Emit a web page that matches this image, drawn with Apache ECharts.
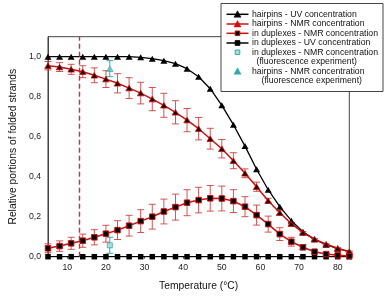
<!DOCTYPE html>
<html><head><meta charset="utf-8">
<script src="https://cdn.jsdelivr.net/npm/echarts@6/dist/echarts.min.js"></script>
<style>html,body{margin:0;padding:0;background:#fff}#c{width:387px;height:296px}</style>
</head><body><div id="c"></div>
<script>
const temps = [5,8,11,14,17,20,23,26,29,32,35,38,41,44,47,50,53,56,59,62,65,68,71,74,77,80,83];
const hairpinsUV = [1.0,1.0,1.0,1.0,1.0,1.0,1.0,1.0,0.997,0.99,0.98,0.965,0.94,0.9,0.84,0.757,0.66,0.553,0.437,0.335,0.25,0.18,0.125,0.087,0.06,0.04,0.025];
const hairpinsNMR = [0.955,0.948,0.937,0.925,0.907,0.888,0.867,0.843,0.818,0.788,0.757,0.722,0.683,0.64,0.59,0.54,0.48,0.417,0.35,0.28,0.22,0.165,0.12,0.087,0.062,0.042,0.025];
const hairpinsNMRerr = [0.021,0.022,0.025,0.03,0.037,0.042,0.048,0.052,0.054,0.058,0.06,0.058,0.058,0.056,0.052,0.046,0.04,0.022,0.023,0.012,0.01,0.006,0.005,0.004,0.003,0.003,0.003];
const duplexNMR = [0.042,0.053,0.067,0.08,0.097,0.115,0.133,0.155,0.178,0.2,0.226,0.248,0.27,0.283,0.292,0.291,0.278,0.25,0.208,0.163,0.113,0.075,0.047,0.025,0.013,0.007,0.003];
const duplexNMRerr = [0.022,0.026,0.03,0.033,0.038,0.042,0.047,0.052,0.057,0.062,0.062,0.065,0.065,0.064,0.064,0.062,0.057,0.05,0.05,0.04,0.032,0.022,0.012,0.008,0.005,0.003,0.002];
const duplexUV = [0,0,0,0,0,0,0,0,0,0,0,0,0,0,0,0,0,0,0,0,0,0,0,0,0,0,0];
const fluoTemp = [21];
const fluoHairpin = [0.94];
const fluoHairpinErr = [0.04];
const fluoDuplex = [0.057];
const fluoDuplexErr = [0.04];
const dashedTemp = 13;
const xTicks = [10,20,30,40,50,60,70,80];
const yTicks = [0,0.2,0.4,0.6,0.8,1.0];
const legendNames = [
  ['hairpins - UV concentration'],
  ['hairpins - NMR concentration'],
  ['in duplexes - NMR concentration'],
  ['in duplexes - UV concentration'],
  ['in duplexes - NMR concentration','(fluorescence experiment)'],
  ['hairpins - NMR concentration','(fluorescence experiment)']
];

const FONT = 'Liberation Sans, Arial, sans-serif';
const RED = '#cc1010';
const ERR = 'rgba(208,64,64,0.9)';
const TEAL = '#35a8a8';

function pairs(xs, ys){ return xs.map((x,i)=>[x, ys[i]]); }
function errSeries(xs, ys, es, color, z){
  return {
    type:'custom', z:z, silent:true,
    encode:{x:0, y:[1,2]},
    data: xs.map((x,i)=>[x, ys[i]-es[i], ys[i]+es[i]]),
    renderItem:function(params, api){
      const lo = api.coord([api.value(0), api.value(1)]);
      const hi = api.coord([api.value(0), api.value(2)]);
      const w = 3.5;
      const st = {stroke: color, lineWidth: 1};
      return {type:'group', children:[
        {type:'line', shape:{x1:lo[0],y1:lo[1],x2:hi[0],y2:hi[1]}, style:st},
        {type:'line', shape:{x1:lo[0]-w,y1:lo[1],x2:lo[0]+w,y2:lo[1]}, style:st},
        {type:'line', shape:{x1:hi[0]-w,y1:hi[1],x2:hi[0]+w,y2:hi[1]}, style:st}
      ]};
    }
  };
}

// legend drawn as graphic
const LX = 221, LY = 3.5;
const entryY = [14.3, 24, 33.3, 43, 52.3, 71.3];
const gl = [];
gl.push({type:'rect', shape:{x:LX, y:LY, width:162, height:88}, style:{fill:'#fff', stroke:'#444', lineWidth:1}, z:100});
function tri(cx, cy, s){ return [[cx, cy-s*0.55],[cx+s*0.55, cy+s*0.45],[cx-s*0.55, cy+s*0.45]]; }
const iconDefs = [
  {line:'#000', mark:'tri', fill:'#000', stroke:'#000'},
  {line:RED, mark:'tri', fill:RED, stroke:RED},
  {line:RED, mark:'sq', fill:'#000', stroke:RED},
  {line:'#000', mark:'sq', fill:'#000', stroke:'#000'},
  {line:null, mark:'sq', fill:'#a8dcdc', stroke:TEAL},
  {line:null, mark:'tri', fill:TEAL, stroke:TEAL}
];
iconDefs.forEach((d,i)=>{
  const cy = entryY[i];
  if(d.line) gl.push({type:'line', shape:{x1:226.5,y1:cy,x2:248.5,y2:cy}, style:{stroke:d.line, lineWidth:1.5}, z:101});
  if(d.mark==='tri') gl.push({type:'polygon', shape:{points:tri(237.5,cy,6.5)}, style:{fill:d.fill, stroke:d.stroke, lineWidth:0.5}, z:102});
  else gl.push({type:'rect', shape:{x:235.2,y:cy-2.3,width:4.6,height:4.6}, style:{fill:d.fill, stroke:d.stroke, lineWidth:1}, z:102});
  const names = legendNames[i];
  gl.push({type:'text', x:252, y:cy, style:{text:names[0], font:'8.7px '+FONT, fill:'#111', verticalAlign:'middle'}, z:102});
  if(names[1]) gl.push({type:'text', x: i===4?256.5:261.5, y:cy+9.5, style:{text:names[1], font:'8.7px '+FONT, fill:'#111', verticalAlign:'middle'}, z:102});
});

const chart = echarts.init(document.getElementById('c'), null, {renderer:'canvas'});
chart.setOption({
  animation:false,
  backgroundColor:'#fff',
  textStyle:{fontFamily:FONT},
  grid:{left:42.3, right:37.7, top:36.7, bottom:39.3, show:true, borderColor:'#444', borderWidth:1, backgroundColor:'transparent'},
  xAxis:{
    type:'value', min:5, max:83,
    name:'Temperature (°C)', nameLocation:'middle', nameGap:24,
    nameTextStyle:{fontSize:10.3, color:'#111', fontFamily:FONT},
    axisLine:{onZero:false, lineStyle:{color:'#444', width:1}},
    axisTick:{show:true, length:2, customValues:xTicks, lineStyle:{color:'#444'}},
    axisLabel:{customValues:xTicks, fontSize:8.7, color:'#222', margin:6, fontFamily:FONT},
    splitLine:{show:false}
  },
  yAxis:{
    type:'value', min:0, max:1.1,
    name:'Relative portions of folded strands', nameLocation:'middle', nameGap:27,
    nameTextStyle:{fontSize:10.3, color:'#111', fontFamily:FONT},
    axisLine:{onZero:false, lineStyle:{color:'#444', width:1}},
    axisTick:{show:false, customValues:yTicks},
    axisLabel:{customValues:yTicks, fontSize:8.7, color:'#222', margin:7, fontFamily:FONT,
      formatter:function(v){ return v.toFixed(1).replace('.', ','); }},
    splitLine:{show:false}
  },
  series:[
    errSeries(temps, hairpinsNMR, hairpinsNMRerr, ERR, 2),
    errSeries(temps, duplexNMR, duplexNMRerr, ERR, 2),
    errSeries(fluoTemp, fluoHairpin, fluoHairpinErr, TEAL, 2),
    errSeries(fluoTemp, fluoDuplex, fluoDuplexErr, TEAL, 2),
    {name:'in duplexes - UV concentration', type:'line', data:pairs(temps, duplexUV), z:3,
      symbol:'rect', symbolSize:5.5, lineStyle:{color:'#000', width:1.3}, itemStyle:{color:'#000'}},
    {name:'hairpins - UV concentration', type:'line', data:pairs(temps, hairpinsUV), z:4,
      symbol:'triangle', symbolSize:[7,6], lineStyle:{color:'#000', width:1.3}, itemStyle:{color:'#000'}},
    {name:'hairpins - NMR concentration', type:'line', data:pairs(temps, hairpinsNMR), z:5,
      symbol:'triangle', symbolSize:[6.5,5.5], lineStyle:{color:RED, width:1.5}, itemStyle:{color:'#200', borderColor:RED, borderWidth:0.8},
      markLine:{silent:true, symbol:'none', label:{show:false},
        lineStyle:{color:'#cc3030', type:[5,3], width:1.4},
        data:[{xAxis:dashedTemp}]}},
    {name:'in duplexes - NMR concentration', type:'line', data:pairs(temps, duplexNMR), z:5,
      symbol:'rect', symbolSize:5.5, lineStyle:{color:RED, width:1.5}, itemStyle:{color:'#000', borderColor:RED, borderWidth:1}},
    {name:'hairpins - NMR concentration (fluorescence experiment)', type:'scatter', data:pairs(fluoTemp, fluoHairpin), z:6,
      symbol:'triangle', symbolSize:[6.5,5.5], itemStyle:{color:'#5cc0c0', borderColor:TEAL, borderWidth:0.8}},
    {name:'in duplexes - NMR concentration (fluorescence experiment)', type:'scatter', data:pairs(fluoTemp, fluoDuplex), z:6,
      symbol:'rect', symbolSize:5, itemStyle:{color:'#a8dcdc', borderColor:TEAL, borderWidth:1}}
  ],
  graphic: gl
});
</script></body></html>
